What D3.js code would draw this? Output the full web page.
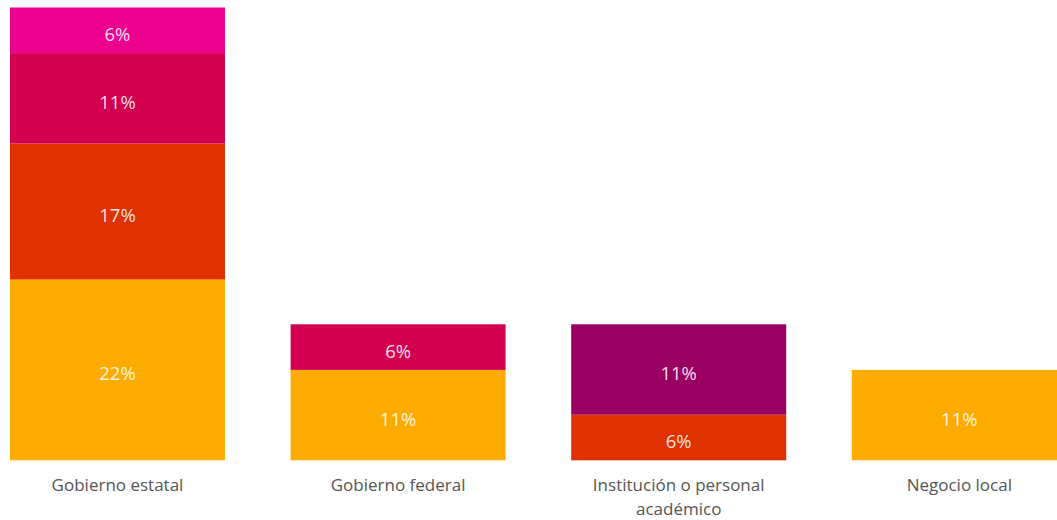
<!DOCTYPE html>
<html>
<head>
<meta charset="utf-8">
<script src="https://cdn.jsdelivr.net/npm/d3@7"></script>
<style>
  body { margin: 0; background: #fff; }
  svg { display: block; font-family: "Open Sans", "Noto Sans", sans-serif; }
</style>
</head>
<body>
<div class="chart"></div>
<script>
// categorias y series (porcentajes)
var categories = ['Gobierno estatal', 'Gobierno federal', 'Institución o personal académico', 'Negocio local'];
var seriesNames = ['s1', 's2', 's3', 's4', 's5'];
var s1 = [22.2, 11.1, 0, 11.1];
var s2 = [16.7, 0, 5.6, 0];
var s3 = [11.1, 5.6, 0, 0];
var s4 = [5.6, 0, 0, 0];
var s5 = [0, 0, 11.1, 0];
var colors = ['#feab00', '#e03100', '#d2004f', '#ee008f', '#990062'];

var seriesValues = [s1, s2, s3, s4, s5];
var rows = categories.map(function(c, i) {
  var r = { cat: c };
  seriesNames.forEach(function(s, j) { r[s] = seriesValues[j][i]; });
  return r;
});

var svg_width = 1057,
    svg_height = 520,
    svg = d3.select('.chart').append('svg').attr('width', svg_width).attr('height', svg_height);

var x = d3.scaleBand().domain(categories).range([10, 1066.8]).paddingInner(0.2338).paddingOuter(0);
var stack = d3.stack().keys(seriesNames);
var stacked = stack(rows);
var y = d3.scaleLinear()
  .domain([0, d3.max(stacked[stacked.length - 1], function(d) { return d[1]; })])
  .range([460.3, 7.5]);

var color = d3.scaleOrdinal().domain(seriesNames).range(colors);

var layer = svg.selectAll('.layer').data(stacked)
  .enter().append('g')
  .attr('class', 'layer')
  .attr('fill', function(d) { return color(d.key); });

var segs = layer.selectAll('g.seg')
  .data(function(d) { return d.filter(function(p) { return p[1] - p[0] > 0; }); })
  .enter().append('g').attr('class', 'seg');

segs.append('rect')
  .attr('x', function(d) { return x(d.data.cat); })
  .attr('y', function(d) { return y(d[1]); })
  .attr('width', x.bandwidth())
  .attr('height', function(d) { return y(d[0]) - y(d[1]); });

segs.append('text')
  .attr('x', function(d) { return x(d.data.cat) + x.bandwidth() / 2; })
  .attr('y', function(d) { return (y(d[0]) + y(d[1])) / 2 + 3; })
  .attr('text-anchor', 'middle')
  .attr('dominant-baseline', 'central')
  .attr('fill', '#fff')
  .attr('fill-opacity', 0.88)
  .style('font-size', '18.5px')
  .text(function(d) { return Math.round(d[1] - d[0]) + '%'; });

// eje x sin linea, etiquetas envueltas
var xAxis = svg.append('g').attr('class', 'axis axis-x')
  .attr('transform', 'translate(0,460)')
  .call(d3.axisBottom(x).tickSize(0).tickPadding(0));
xAxis.select('.domain').remove();
xAxis.selectAll('text')
  .attr('fill', '#555')
  .style('font-size', '17px')
  .style('font-family', '"Open Sans", "Noto Sans", sans-serif')
  .attr('dy', null)
  .attr('y', 31)
  .each(function(d) {
    var t = d3.select(this), words = d.split(' '), line = [], lines = [];
    t.text(null);
    var probe = t.append('tspan');
    words.forEach(function(w) {
      line.push(w);
      probe.text(line.join(' '));
      if (probe.node().getComputedTextLength() > x.bandwidth() && line.length > 1) {
        line.pop();
        lines.push(line.join(' '));
        line = [w];
      }
    });
    lines.push(line.join(' '));
    probe.remove();
    lines.forEach(function(l, i) {
      t.append('tspan').attr('x', 0).attr('dy', i === 0 ? 0 : 23.5).text(l);
    });
  });
</script>
</body>
</html>
